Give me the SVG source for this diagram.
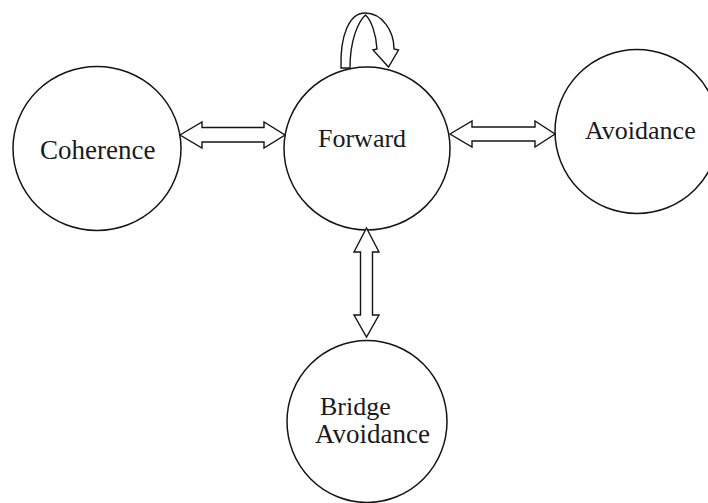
<svg xmlns="http://www.w3.org/2000/svg" width="708" height="503" viewBox="0 0 708 503">
  <style>
    .state { fill: #ffffff; stroke: #141414; stroke-width: 1.5; }
    .label { font-family: "Liberation Serif", "Times New Roman", serif; font-size: 26px; fill: #1a1a1a; }
    .block { fill: #ffffff; stroke: #141414; stroke-width: 1.4; stroke-linejoin: miter; }
  </style>
  <rect width="708" height="503" fill="#ffffff"/>

  <!-- states -->
  <g id="coherence">
    <ellipse class="state" cx="97" cy="148.5" rx="84" ry="82"/>
    <text class="label" x="40" y="159" style="font-size:27px">Coherence</text>
  </g>
  <g id="forward">
    <ellipse class="state" cx="367" cy="148.5" rx="83" ry="81.5"/>
    <text class="label" x="318" y="147">Forward</text>
  </g>
  <g id="avoidance">
    <ellipse class="state" cx="637" cy="131.5" rx="82" ry="82"/>
    <text class="label" x="585" y="139">Avoidance</text>
  </g>
  <g id="bridge-avoidance">
    <ellipse class="state" cx="367" cy="421.5" rx="80" ry="81"/>
    <text class="label" x="320" y="415">Bridge</text>
    <text class="label" x="315" y="443" style="font-size:27px">Avoidance</text>
  </g>

  <!-- transitions: double-headed block arrows and the self-loop on Forward -->
  <g id="connectors">
    <polygon class="block" points="180,135 202,122 202,127.5 264,127.5 264,122 285,135 264,148 264,142 202,142 202,148"/>
    <polygon class="block" points="450,134 472,121 472,127 535,127 535,121 555,134 535,147 535,141 472,141 472,147"/>
    <polygon class="block" points="366.5,228 379,252 372.5,252 372.5,315 379,315 366.5,337 354,315 360.5,315 360.5,252 354,252"/>
    <path class="block" d="M341,68 C340,36 349,13 365,13 C383,13 394,32 394,49 L398.5,50 L388.5,67 L373,50 L377,49 C376,33 371,20 365.5,15 C358,22 350,40 350,68 Z"/>
  </g>
</svg>
